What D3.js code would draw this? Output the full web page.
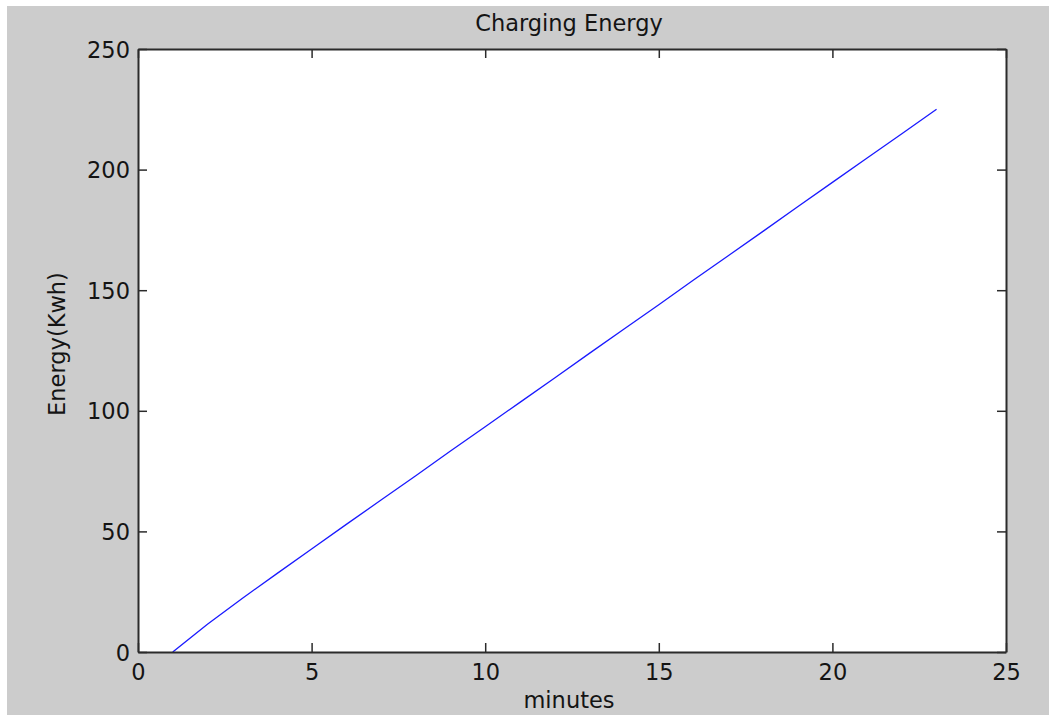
<!DOCTYPE html>
<html>
<head>
<meta charset="utf-8">
<script src="https://cdn.jsdelivr.net/npm/d3@7"></script>
<style>
  html, body { margin: 0; padding: 0; background: #fff; }
  svg { display: block; }
  text { font-family: "DejaVu Sans", sans-serif; fill: #141414; }
</style>
</head>
<body>
<div id="chart"></div>
<script>
// data
const minutes = [1, 2, 3, 4, 5, 6, 7, 8, 9, 10, 11, 12, 13, 14, 15, 16, 17, 18, 19, 20, 21, 22, 23];
const energy = [0, 11.5, 22.2, 32.5, 42.7, 52.9, 63.0, 73.1, 83.3, 93.4, 103.5, 113.6,
  123.8, 133.9, 144.0, 154.2, 164.3, 174.4, 184.6, 194.7, 204.8, 214.9, 225];
const xTicks = [0, 5, 10, 15, 20, 25];
const yTicks = [0, 50, 100, 150, 200, 250];
const titleText = 'Charging Energy';
const xLabel = 'minutes';
const yLabel = 'Energy(Kwh)';

// dimensions
const WIDTH = 1049;
const HEIGHT = 715;
const PLOT_LEFT = 138;
const PLOT_TOP = 49;
const PLOT_RIGHT = 1006;
const PLOT_BOTTOM = 652;
const TICK = 9;
const FONT = 22.5;

const $svg = d3.select('#chart').append('svg')
  .attr('width', WIDTH)
  .attr('height', HEIGHT);

// figure background
$svg.append('rect')
  .attr('x', 7).attr('y', 6)
  .attr('width', WIDTH - 7).attr('height', HEIGHT - 6)
  .attr('fill', '#cccccc');

// scales
const scaleX = d3.scaleLinear().domain([0, 25]).range([PLOT_LEFT, PLOT_RIGHT]);
const scaleY = d3.scaleLinear().domain([0, 250]).range([PLOT_BOTTOM, PLOT_TOP]);

// plot area
$svg.append('rect')
  .attr('x', PLOT_LEFT).attr('y', PLOT_TOP)
  .attr('width', PLOT_RIGHT - PLOT_LEFT).attr('height', PLOT_BOTTOM - PLOT_TOP)
  .attr('fill', '#fff');

// line
const line = d3.line()
  .x((d, i) => scaleX(minutes[i]))
  .y((d) => scaleY(d));

$svg.append('path')
  .datum(energy)
  .attr('d', line)
  .attr('fill', 'none')
  .attr('stroke', '#1a1aff')
  .attr('stroke-width', 1.3);

// axes (MATLAB box, ticks pointing in)
function styleAxis(g) {
  g.selectAll('.domain').attr('stroke', '#2b2b2b').attr('stroke-width', 2);
  g.selectAll('.tick line').attr('stroke', '#2b2b2b').attr('stroke-width', 1.5);
  g.selectAll('text')
    .attr('font-family', '"DejaVu Sans", sans-serif')
    .attr('font-size', FONT)
    .attr('fill', '#141414');
}

const $xBottom = $svg.append('g')
  .attr('transform', `translate(0,${PLOT_BOTTOM})`)
  .call(d3.axisBottom(scaleX).tickValues(xTicks).tickSizeInner(-TICK).tickSizeOuter(0).tickPadding(0))
  .call(styleAxis);
$xBottom.selectAll('text').attr('dy', null).attr('y', 28);

$svg.append('g')
  .attr('transform', `translate(0,${PLOT_TOP})`)
  .call(d3.axisTop(scaleX).tickValues(xTicks).tickSizeInner(-TICK).tickSizeOuter(0).tickFormat(''))
  .call(styleAxis);

const $yLeft = $svg.append('g')
  .attr('transform', `translate(${PLOT_LEFT},0)`)
  .call(d3.axisLeft(scaleY).tickValues(yTicks).tickSizeInner(-TICK).tickSizeOuter(0).tickPadding(0))
  .call(styleAxis);
$yLeft.selectAll('text').attr('dy', null).attr('x', -8).attr('y', 8);

$svg.append('g')
  .attr('transform', `translate(${PLOT_RIGHT},0)`)
  .call(d3.axisRight(scaleY).tickValues(yTicks).tickSizeInner(-TICK).tickSizeOuter(0).tickFormat(''))
  .call(styleAxis);

// titles
$svg.append('text')
  .attr('x', 569).attr('y', 31)
  .attr('text-anchor', 'middle')
  .attr('font-size', FONT)
  .text(titleText);

$svg.append('text')
  .attr('x', 569).attr('y', 708)
  .attr('text-anchor', 'middle')
  .attr('font-size', FONT)
  .text(xLabel);

$svg.append('text')
  .attr('transform', 'translate(65,344) rotate(-90)')
  .attr('text-anchor', 'middle')
  .attr('font-size', FONT)
  .text(yLabel);
</script>
</body>
</html>
